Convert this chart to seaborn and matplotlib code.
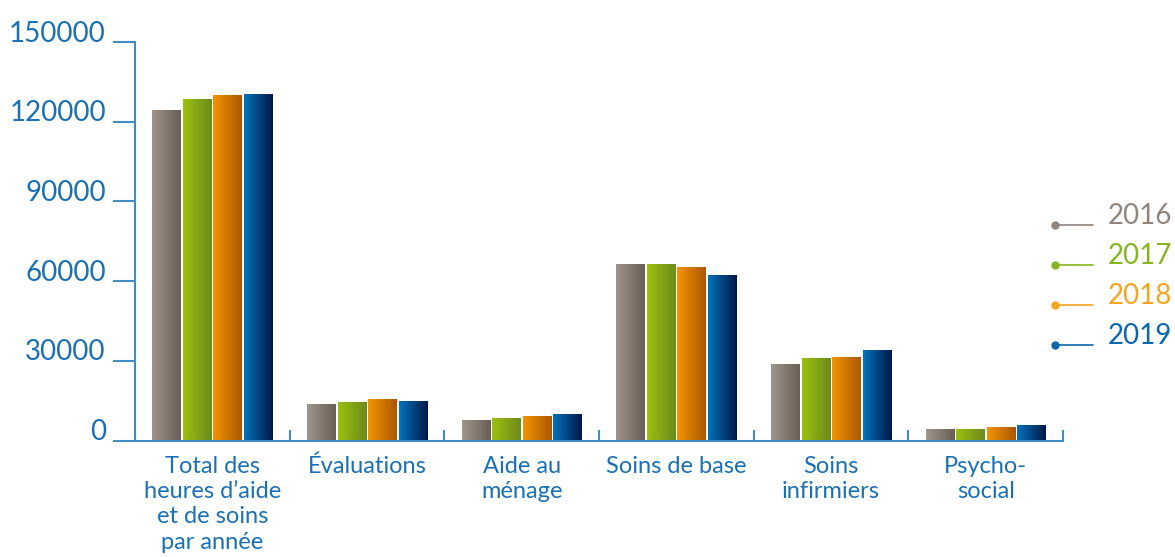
import numpy as np
import pandas as pd
import matplotlib.pyplot as plt
import matplotlib.colors as mcolors
from matplotlib.lines import Line2D
from matplotlib.transforms import ScaledTranslation
import seaborn as sns

# Heures d'aide et de soins par année
categories = ["Total des\nheures d’aide\net de soins\npar année", "Évaluations",
              "Aide au\nménage", "Soins de base", "Soins\ninfirmiers", "Psycho-\nsocial"]
annees = ["2016", "2017", "2018", "2019"]
h2016 = [124300, 13800, 7700, 66500, 28800, 4300]
h2017 = [128700, 14500, 8500, 66500, 31100, 4300]
h2018 = [130200, 15600, 9350, 65400, 31500, 5100]
h2019 = [130300, 14900, 10000, 62400, 34100, 5800]
yticks = [0, 30000, 60000, 90000, 120000, 150000]

# couleurs : gauche (clair) -> droite (foncé) pour le dégradé
grad = {"2016": ("#9e958c", "#6a5e56"), "2017": ("#9cc00e", "#6d8a1c"),
        "2018": ("#f29400", "#ad5700"), "2019": ("#0072ba", "#001848")}
leg_col = {"2016": "#8f857c", "2017": "#86b51f", "2018": "#f5a420", "2019": "#0a67aa"}
blue_txt = "#1a70b5"
axis_col = "#3d8cc6"

df = pd.DataFrame({
    "categorie": categories * 4,
    "annee": [a for a in annees for _ in categories],
    "heures": h2016 + h2017 + h2018 + h2019,
})

sns.set_style("white")
plt.rcParams["font.family"] = ["Lato", "DejaVu Sans"]

fig = plt.figure(figsize=(11.75, 5.57), dpi=100)
ax = fig.add_axes([135 / 1175, (557 - 440.5) / 557, (1063 - 135) / 1175, 398.5 / 557])

sns.barplot(data=df, x="categorie", y="heures", hue="annee", hue_order=annees,
            palette=[grad[a][0] for a in annees], width=0.79, gap=0.07,
            legend=False, ax=ax, errorbar=None, saturation=1)

# dégradé horizontal dans chaque barre
for annee, cont in zip(annees, ax.containers):
    cmap = mcolors.LinearSegmentedColormap.from_list(annee, grad[annee])
    g = np.linspace(0, 1, 64).reshape(1, -1)
    for bar in cont:
        x0, w, h = bar.get_x(), bar.get_width(), bar.get_height()
        im = ax.imshow(g, cmap=cmap, extent=[x0, x0 + w, 0, h], aspect="auto",
                       origin="lower", zorder=bar.get_zorder() + 0.1)
        im.set_clip_path(bar)

ax.set_xlim(-0.5, 5.5)
ax.set_ylim(0, 150000)
ax.set_xlabel("")
ax.set_ylabel("")

for s in ["top", "right"]:
    ax.spines[s].set_visible(False)
for s in ["left", "bottom"]:
    ax.spines[s].set_color(axis_col)
    ax.spines[s].set_linewidth(1.5)

ax.set_yticks(yticks)
ax.set_yticklabels([str(v) for v in yticks], fontsize=20, color=blue_txt)
ax.tick_params(axis="y", direction="out", length=16, width=1.5, color=axis_col, pad=5, left=True)
shift = ScaledTranslation(0, 0.11, fig.dpi_scale_trans)
for lab in ax.get_yticklabels():
    lab.set_transform(lab.get_transform() + shift)

ax.set_xticks(range(len(categories)))
ax.set_xticklabels(categories, fontsize=17, color=blue_txt, va="top", ha="center",
                   linespacing=1.25)
ax.tick_params(axis="x", length=0, pad=11)
ax.set_xticks(np.arange(-0.5, 6, 1), minor=True)
ax.tick_params(axis="x", which="minor", direction="in", length=8, width=1.5,
               color=axis_col, bottom=True)

# légende à droite : point + trait, année au-dessus
for i, annee in enumerate(annees):
    y = 1 - (225 + i * 40) / 557
    fig.add_artist(Line2D([1055 / 1175, 1093 / 1175], [y, y], color=leg_col[annee],
                          lw=1.2, marker="o", markevery=[0], markersize=5,
                          transform=fig.transFigure))
    fig.text(1108 / 1175, y + 1 / 557, annee, fontsize=20, color=leg_col[annee],
             ha="left", va="baseline")

fig.savefig("out.png", dpi=100)
